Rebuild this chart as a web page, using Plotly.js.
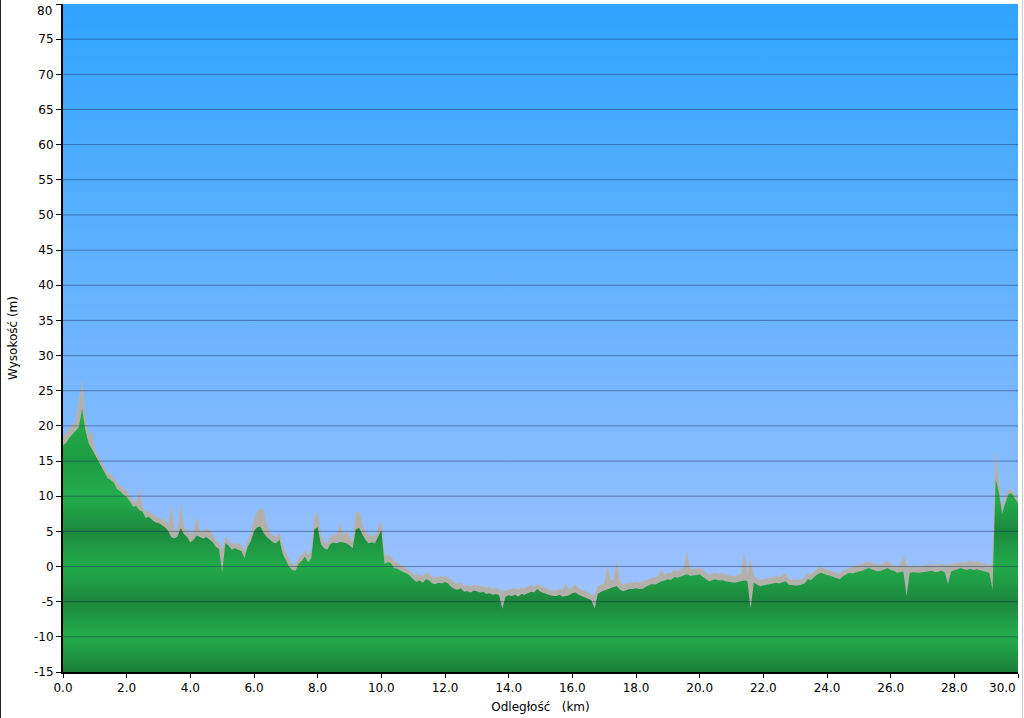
<!DOCTYPE html>
<html>
<head>
<meta charset="utf-8">
<script src="https://cdn.plot.ly/plotly-3.0.1.min.js"></script>
<style>
html,body{margin:0;padding:0;background:#fff;}
#chart{width:1024px;height:718px;}
#edgeL{position:fixed;left:0;top:0;width:1px;height:718px;background:#222;}
#edgeR{position:fixed;left:1022px;top:0;width:1px;height:718px;background:#c8c8c8;}
</style>
</head>
<body>
<div id="chart"></div>
<div id="edgeL"></div>
<div id="edgeR"></div>
<script>
// Axis settings
const xRange = [0, 30];
const yRange = [-15, 80];
const xTicks = [0, 2, 4, 6, 8, 10, 12, 14, 16, 18, 20, 22, 24, 26, 28, 30];
const xTickText = ["0.0","2.0","4.0","6.0","8.0","10.0","12.0","14.0","16.0","18.0","20.0","22.0","24.0","26.0","28.0","30.0"];
const yTicks = [-15,-10,-5,0,5,10,15,20,25,30,35,40,45,50,55,60,65,70,75,80];
const yTickText = ["-15","-10","-5","0","5","10","15","20","25","30","35","40","45","50","55","60","65","70","75","80"];
const xTitle = "Odległość\u00A0\u00A0\u00A0(km)";
const yTitle = "Wysokość (m)";

// Distance along the route (km)
const distKm = [
0.0,0.1,0.2,0.3,0.4,0.5,0.6,0.7,0.8,0.9,
1.0,1.1,1.2,1.3,1.4,1.5,1.6,1.7,1.8,1.9,
2.0,2.1,2.2,2.3,2.4,2.5,2.6,2.7,2.8,2.9,
3.0,3.1,3.2,3.3,3.4,3.5,3.6,3.7,3.8,3.9,
4.0,4.1,4.2,4.3,4.4,4.5,4.6,4.7,4.8,4.9,
5.0,5.1,5.2,5.3,5.4,5.5,5.6,5.7,5.8,5.9,
6.0,6.1,6.2,6.3,6.4,6.5,6.6,6.7,6.8,6.9,
7.0,7.1,7.2,7.3,7.4,7.5,7.6,7.7,7.8,7.9,
8.0,8.1,8.2,8.3,8.4,8.5,8.6,8.7,8.8,8.9,
9.0,9.1,9.2,9.3,9.4,9.5,9.6,9.7,9.8,9.9,
10.0,10.1,10.2,10.3,10.4,10.5,10.6,10.7,10.8,10.9,
11.0,11.1,11.2,11.3,11.4,11.5,11.6,11.7,11.8,11.9,
12.0,12.1,12.2,12.3,12.4,12.5,12.6,12.7,12.8,12.9,
13.0,13.1,13.2,13.3,13.4,13.5,13.6,13.7,13.8,13.9,
14.0,14.1,14.2,14.3,14.4,14.5,14.6,14.7,14.8,14.9,
15.0,15.1,15.2,15.3,15.4,15.5,15.6,15.7,15.8,15.9,
16.0,16.1,16.2,16.3,16.4,16.5,16.6,16.7,16.8,16.9,
17.0,17.1,17.2,17.3,17.4,17.5,17.6,17.7,17.8,17.9,
18.0,18.1,18.2,18.3,18.4,18.5,18.6,18.7,18.8,18.9,
19.0,19.1,19.2,19.3,19.4,19.5,19.6,19.7,19.8,19.9,
20.0,20.1,20.2,20.3,20.4,20.5,20.6,20.7,20.8,20.9,
21.0,21.1,21.2,21.3,21.4,21.5,21.6,21.7,21.8,21.9,
22.0,22.1,22.2,22.3,22.4,22.5,22.6,22.7,22.8,22.9,
23.0,23.1,23.2,23.3,23.4,23.5,23.6,23.7,23.8,23.9,
24.0,24.1,24.2,24.3,24.4,24.5,24.6,24.7,24.8,24.9,
25.0,25.1,25.2,25.3,25.4,25.5,25.6,25.7,25.8,25.9,
26.0,26.1,26.2,26.3,26.4,26.5,26.6,26.7,26.8,26.9,
27.0,27.1,27.2,27.3,27.4,27.5,27.6,27.7,27.8,27.9,
28.0,28.1,28.2,28.3,28.4,28.5,28.6,28.7,28.8,28.9,
29.0,29.1,29.2,29.3,29.4,29.5,29.6,29.7,29.8,29.9,
30.0
];

// Elevation, lower envelope (green profile), m
const elevLow = [
17.2,17.6,18.3,18.8,19.2,19.8,22.5,19.5,17.6,16.8,
15.8,15.0,14.3,13.4,12.6,12.3,11.9,11.0,10.7,10.2,
9.9,9.3,8.5,8.6,8.0,7.8,6.9,7.1,6.6,6.3,
6.2,5.9,5.6,5.1,4.2,4.0,4.3,5.5,4.6,4.2,
3.4,3.8,4.4,4.2,4.0,4.2,3.8,3.5,2.8,2.5,
-0.8,3.3,3.0,2.4,2.6,2.4,2.2,1.2,2.8,3.6,
5.0,5.6,5.7,4.8,4.2,3.8,3.4,3.3,3.8,1.8,
1.0,0.0,-0.5,-0.6,0.4,0.8,1.4,0.6,1.2,5.3,
5.6,3.2,2.6,2.4,3.2,3.4,3.3,3.5,3.4,3.3,
3.0,2.6,5.3,5.5,4.6,3.8,3.3,3.4,3.3,4.2,
5.2,0.4,0.6,0.5,-0.2,-0.3,-0.6,-0.8,-1.0,-1.3,
-1.8,-2.2,-2.0,-2.3,-1.8,-2.0,-2.4,-2.5,-2.3,-2.4,
-2.2,-2.4,-2.9,-3.2,-3.3,-3.1,-3.6,-3.5,-3.7,-3.4,
-3.5,-3.7,-3.6,-3.9,-3.8,-4.0,-3.9,-4.1,-6.0,-4.3,
-4.1,-4.2,-4.0,-4.3,-3.9,-4.0,-3.8,-3.6,-3.7,-3.2,
-3.6,-3.8,-3.9,-4.1,-4.2,-4.2,-4.0,-4.3,-4.2,-4.1,
-3.8,-3.7,-4.0,-4.2,-4.4,-4.6,-4.8,-6.0,-3.9,-3.6,
-3.4,-3.2,-3.0,-2.9,-2.8,-3.3,-3.5,-3.3,-3.2,-3.2,
-3.1,-3.2,-3.2,-2.9,-2.7,-2.5,-2.6,-2.3,-2.1,-2.0,
-1.8,-1.9,-1.5,-1.6,-1.4,-1.2,-1.1,-1.3,-1.3,-1.2,
-1.1,-1.5,-1.8,-2.1,-1.9,-1.8,-2.0,-1.9,-2.1,-2.2,
-2.2,-2.3,-2.2,-2.1,-2.0,-2.1,-6.0,-2.3,-2.6,-2.8,
-2.7,-2.6,-2.5,-2.4,-2.3,-2.4,-2.2,-2.1,-2.6,-2.7,
-2.7,-2.7,-2.6,-2.4,-1.8,-1.9,-1.5,-1.1,-0.9,-1.1,
-1.2,-1.3,-1.5,-1.7,-1.8,-1.4,-1.2,-0.9,-1.0,-0.8,
-0.7,-0.6,-0.4,-0.2,-0.4,-0.5,-0.7,-0.6,-0.4,-0.2,
-0.5,-0.6,-0.9,-0.8,-0.7,-4.2,-0.9,-0.8,-0.9,-0.9,
-0.8,-0.7,-0.7,-0.6,-0.8,-0.7,-0.6,-0.8,-2.5,-0.7,
-0.5,-0.3,-0.2,-0.4,-0.5,-0.3,-0.5,-0.4,-0.5,-0.6,
-0.7,-0.9,-3.3,12.5,10.5,7.5,9.0,10.3,10.4,9.6,
9.0
];

// Elevation, upper envelope (grey noisy readings), m
const elevHigh = [
18.4,19.0,19.5,20.2,20.6,23.3,26.2,21.0,18.6,19.2,
16.6,15.8,15.0,14.2,13.3,13.1,12.6,11.8,11.4,11.0,
10.7,10.0,9.3,9.2,10.9,8.6,7.7,7.9,7.4,7.2,
7.0,6.7,6.5,6.0,8.5,5.0,5.3,8.8,5.6,5.2,
4.6,4.8,7.0,5.0,5.1,5.3,5.2,4.5,3.8,3.4,
2.4,4.2,3.8,3.2,3.3,3.3,3.0,2.2,3.6,4.6,
6.8,7.8,8.3,8.0,6.0,4.8,4.4,4.2,4.8,2.9,
2.0,1.0,0.3,0.2,1.3,1.6,2.3,1.6,2.2,7.0,
7.6,4.4,3.5,3.3,4.4,4.5,4.4,6.1,4.5,5.0,
4.2,3.6,7.6,7.8,6.0,4.9,4.5,4.4,4.3,5.6,
6.4,1.6,1.6,1.4,0.8,0.6,0.2,0.0,-0.3,-0.6,
-0.9,-1.3,-1.1,-1.4,-0.9,-1.0,-1.5,-1.6,-1.4,-1.5,
-1.4,-1.6,-1.9,-2.3,-2.5,-2.2,-2.8,-2.6,-2.9,-2.6,
-2.7,-2.8,-2.8,-3.0,-2.9,-3.2,-3.0,-3.3,-3.5,-3.4,
-3.3,-3.2,-3.1,-3.3,-3.0,-3.1,-2.9,-2.7,-2.9,-2.5,
-2.8,-3.0,-3.1,-3.4,-3.5,-3.4,-3.2,-3.3,-2.5,-3.3,
-2.9,-2.6,-3.1,-3.3,-3.6,-3.8,-4.0,-4.2,-2.8,-2.6,
-2.4,0.0,-2.0,-1.9,0.7,-2.3,-2.6,-2.4,-2.3,-2.2,
-2.2,-2.3,-2.2,-2.0,-1.8,-1.6,-1.6,-1.3,-0.5,-1.2,
-0.9,-1.0,-0.5,-0.7,-0.4,-0.2,2.0,-0.3,-0.4,-0.3,
-0.2,-0.5,-0.9,-1.2,-1.0,-0.9,-1.1,-0.9,-1.2,-1.2,
-1.3,-1.4,-1.2,-1.1,2.0,-1.2,1.0,-1.4,-1.7,-1.9,
-1.8,-1.7,-1.6,-1.6,-1.4,-1.5,-1.2,-1.0,-1.8,-1.9,
-1.9,-1.9,-1.8,-1.6,-1.0,-1.1,-0.7,-0.3,0.0,-0.3,
-0.4,-0.5,-0.7,-0.9,-1.0,-0.6,-0.4,-0.1,0.0,0.1,
0.2,0.3,0.5,0.7,0.5,0.4,0.2,0.3,0.5,0.8,
0.3,0.2,0.0,0.2,1.6,0.1,0.0,0.1,0.0,0.0,
0.1,0.2,0.3,0.3,0.1,0.3,0.4,0.2,0.2,0.3,
0.4,0.5,0.6,0.5,0.7,0.8,0.6,0.7,0.6,0.4,
0.3,0.2,0.3,16.0,12.0,8.4,10.0,11.0,10.9,10.3,
9.6
];

const floorY = distKm.map(() => yRange[0]);

const skyScale = [[0, '#A8C7FC'], [0.16, '#98C0FF'], [1, '#30A4FF']];
const greenSpan = 45;
const gs = v => (v - yRange[0]) / greenSpan;
const groundScale = [
  [gs(-15), '#1A7D36'], [gs(-12.5), '#1F9842'], [gs(-10), '#23AD4C'],
  [gs(-7.5), '#209B45'], [gs(-5), '#1C863C'], [gs(-2.5), '#1F9A44'],
  [gs(0), '#22AA4A'], [gs(2.5), '#1F9B45'], [gs(5), '#1C893E'],
  [gs(7.5), '#1F9C45'], [gs(10), '#23AE4C'], [gs(15), '#1E9C44'],
  [gs(20), '#22A848'], [gs(30), '#27B04F']
];

const traces = [
  { // sky background
    x: [xRange[0], xRange[1], xRange[1], xRange[0]],
    y: [yRange[0], yRange[0], yRange[1], yRange[1]],
    type: 'scatter', mode: 'lines', fill: 'toself',
    line: {width: 0, color: 'rgba(0,0,0,0)'},
    fillgradient: {type: 'vertical', start: yRange[0], stop: yRange[1], colorscale: skyScale},
    hoverinfo: 'skip', showlegend: false
  },
  { x: distKm, y: floorY, type: 'scatter', mode: 'lines', line: {width: 0, color: 'rgba(0,0,0,0)'}, hoverinfo: 'skip', showlegend: false },
  { // grey noisy readings
    x: distKm, y: elevHigh, type: 'scatter', mode: 'lines', fill: 'tonexty',
    fillcolor: '#B2B0AA', line: {width: 0.6, color: '#B8B6B0'},
    hoverinfo: 'skip', showlegend: false
  },
  { x: distKm, y: floorY, type: 'scatter', mode: 'lines', line: {width: 0, color: 'rgba(0,0,0,0)'}, hoverinfo: 'skip', showlegend: false },
  { // green profile
    x: distKm, y: elevLow, type: 'scatter', mode: 'lines', fill: 'tonexty',
    line: {width: 0, color: 'rgba(0,0,0,0)'},
    fillgradient: {type: 'vertical', start: yRange[0], stop: yRange[0] + greenSpan, colorscale: groundScale},
    showlegend: false
  }
];

const gridShapes = yTicks.filter(v => v > yRange[0] && v < yRange[1]).map(v => ({
  type: 'line', xref: 'paper', x0: 0, x1: 1, yref: 'y', y0: v, y1: v,
  line: {color: 'rgba(20,40,80,0.45)', width: 1}, layer: 'above'
}));

const font = {family: 'DejaVu Sans, Verdana, sans-serif', size: 12, color: '#000'};

// edge labels are pulled inside the page, as in the original
const lastX = xTicks.length - 1;
const lastY = yTicks.length - 1;
const xAxisText = xTickText.map((t, i) => i === lastX ? '' : t);
const yAxisText = yTickText.map((t, i) => i === lastY ? '' : t);
const edgeLabels = [
  {x: xTicks[lastX], xref: 'x', y: 0, yref: 'paper', text: xTickText[lastX],
   xanchor: 'right', yanchor: 'top', yshift: -7, showarrow: false, font: font},
  {x: 0, xref: 'paper', y: yTicks[lastY], yref: 'y', text: yTickText[lastY],
   xanchor: 'right', yanchor: 'top', xshift: -9, yshift: 2, showarrow: false, font: font}
];

const layout = {
  width: 1024, height: 718,
  margin: {l: 63, r: 6, t: 4, b: 46},
  paper_bgcolor: '#ffffff', plot_bgcolor: '#ffffff',
  font: font,
  showlegend: false,
  xaxis: {
    range: xRange, tickmode: 'array', tickvals: xTicks, ticktext: xAxisText,
    showgrid: false, zeroline: false,
    showline: true, linecolor: '#000', linewidth: 2,
    ticks: 'outside', ticklen: 4, tickwidth: 1, tickcolor: '#000',
    layer: 'above traces', tickfont: font,
    title: {text: xTitle, font: font, standoff: 8}
  },
  yaxis: {
    range: yRange, tickmode: 'array', tickvals: yTicks, ticktext: yAxisText,
    showgrid: false, zeroline: false,
    showline: true, linecolor: '#000', linewidth: 2,
    ticks: 'outside', ticklen: 5, tickwidth: 1, tickcolor: '#000',
    layer: 'above traces', tickfont: font,
    title: {text: yTitle, font: font, standoff: 14}
  },
  shapes: gridShapes,
  annotations: edgeLabels
};

Plotly.newPlot('chart', traces, layout, {displayModeBar: false, staticPlot: true});
</script>
</body>
</html>
